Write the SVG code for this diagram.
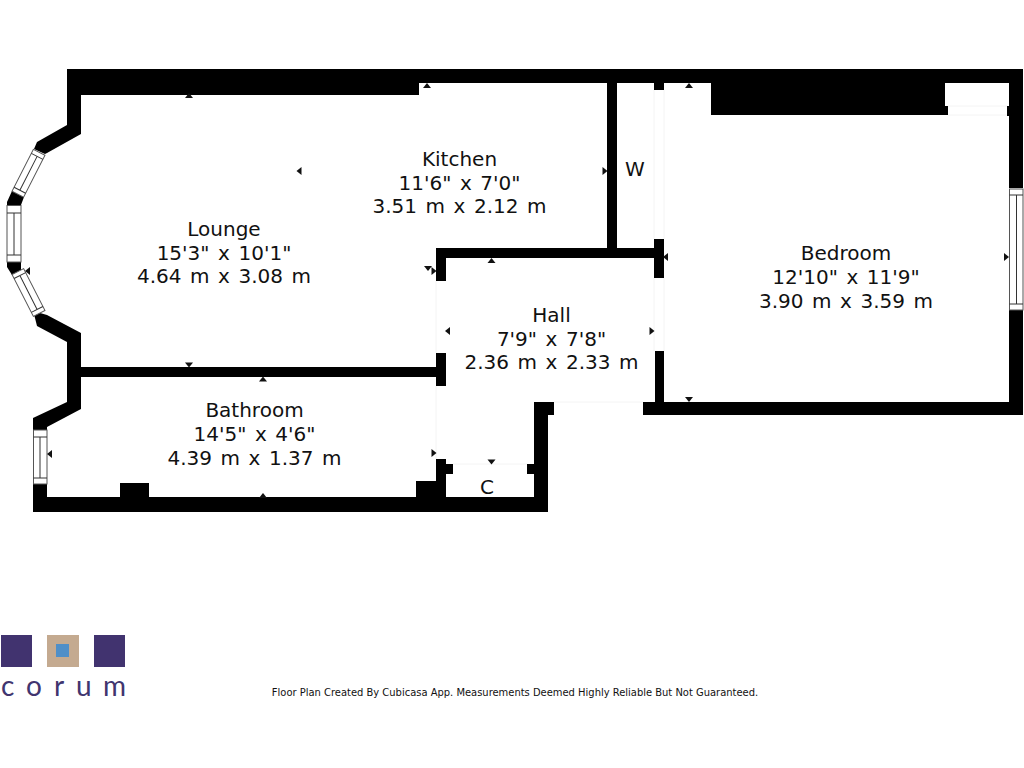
<svg xmlns="http://www.w3.org/2000/svg" width="1024" height="768" viewBox="0 0 1024 768">
<style>
.w{fill:#000}
.win{fill:#fff;stroke:#555;stroke-width:1}
.ln{fill:none;stroke:#333;stroke-width:1}
.door{fill:none;stroke:#f4f4f4;stroke-width:1}
.m{fill:#111}
text{font-family:"DejaVu Sans",Verdana,sans-serif;fill:#111;text-anchor:middle}
.r{font-size:20px;word-spacing:2.200px}
.foot{font-size:9.950px}
.logo{font-family:Lato,"Open Sans",sans-serif;font-size:28px;fill:#41356f;text-anchor:start;font-weight:400;word-spacing:0}
.sq{fill:#41336f}
</style>
<defs>
<path id="up" d="M-4 2.500L4 2.500L0 -2.500Z"/>
<path id="dn" d="M-4 -2.500L4 -2.500L0 2.500Z"/>
<path id="lf" d="M2.500 -4L2.500 4L-2.500 0Z"/>
<path id="rt" d="M-2.500 -4L-2.500 4L2.500 0Z"/>
<g id="dw"><rect class="win" x="-6.500" y="-23.500" width="13" height="47"/><path class="ln" d="M-6.500 -19H6.500M-6.500 19H6.500M0 -19V19"/></g>
</defs>
<rect width="1024" height="768" fill="#fff"/>
<g id="doors">
<path class="door" d="M436 281V353M436 386V459M654 90V239M664 90V239M654 278V351M664 278V351M554 402H643M453 464H527M948 115H1007M948 106H1007"/>
</g>
<g id="walls">
<polygon class="w" points="67,69 1023,69 1023,188 1009,188 1009,83 945,83 945,106 948,106 948,115 711,115 711,83 419,83 419,95 81,95 81,134 47,153 45,154 34,149 37,142 67,125"/>
<polygon class="w" points="12,191 24,197 21,205 7,205 7,202"/>
<polygon class="w" points="7,262 21,262 21,270 12,275 7,267"/>
<polygon class="w" points="35,318 33,311 47,315 81,333 81,409 47,427 47,430 33,430 33,418 67,402 67,342 37,326"/>
<rect class="w" x="81" y="367" width="356" height="10"/>
<polygon class="w" points="33,484 47,484 47,497 120,497 120,483 149,483 149,497 416,497 416,481 436,481 436,459 446,459 446,464 453,464 453,474 446,474 446,497 534,497 534,474 527,474 527,464 534,464 534,402 554,402 554,415 548,415 548,512 33,512"/>
<rect class="w" x="436" y="353" width="10" height="33"/>
<polygon class="w" points="436,248 664,248 664,278 654,278 654,258 446,258 446,281 436,281"/>
<rect class="w" x="654" y="239" width="10" height="10"/>
<rect class="w" x="607" y="83" width="10" height="165"/>
<rect class="w" x="654" y="83" width="10" height="7"/>
<polygon class="w" points="655,351 664,351 664,402 1009,402 1009,310 1023,310 1023,415 643,415 643,402 655,402"/>
<rect class="w" x="1007" y="106" width="2" height="10"/>
</g>
<g id="windows">
<use href="#dw" transform="translate(28.500 173.300) rotate(27)"/>
<use href="#dw" transform="translate(28.500 292.500) rotate(-27)"/>
<rect class="win" x="7" y="205.500" width="14" height="56.500"/>
<path class="ln" d="M7 213H21M7 255H21M14 213V255"/>
<rect class="win" x="33.500" y="430" width="13.500" height="54"/>
<path class="ln" d="M33.500 437H47M33.500 478H47M40 437V478"/>
<rect class="win" x="1009.500" y="189" width="13.500" height="121"/>
<path class="ln" d="M1009.500 195H1023M1009.500 304H1023M1016.500 195V304"/>
</g>
<g id="markers" class="m">
<use href="#up" x="189" y="95.500"/>
<use href="#up" x="427" y="85.500"/>
<use href="#lf" x="299" y="171"/>
<use href="#rt" x="605" y="171"/>
<use href="#dn" x="189" y="365"/>
<use href="#up" x="263" y="379"/>
<use href="#dn" x="428" y="268.500"/>
<use href="#rt" x="434" y="271"/>
<use href="#up" x="491.500" y="260.500"/>
<use href="#lf" x="447.500" y="331"/>
<use href="#rt" x="652" y="331"/>
<use href="#lf" x="665.500" y="257"/>
<use href="#rt" x="1006.500" y="257"/>
<use href="#up" x="689" y="85.500"/>
<use href="#dn" x="689" y="399.500"/>
<use href="#lf" x="49.500" y="454"/>
<use href="#rt" x="434" y="453"/>
<use href="#up" x="263" y="495.500"/>
<use href="#dn" x="491.500" y="462"/>
<use href="#lf" x="27.500" y="271"/>
</g>
<g id="lounge"><text class="r" x="224" y="236">Lounge</text><text class="r" x="224" y="259.500">15'3" x 10'1"</text><text class="r" x="224" y="283">4.64 m x 3.08 m</text></g>
<g id="kitchen"><text class="r" x="459.500" y="166">Kitchen</text><text class="r" x="459.500" y="189.500">11'6" x 7'0"</text><text class="r" x="459.500" y="213">3.51 m x 2.12 m</text></g>
<g id="wardrobe"><text class="r" x="635" y="176">W</text></g>
<g id="hall"><text class="r" x="551.500" y="322">Hall</text><text class="r" x="551.500" y="345.500">7'9" x 7'8"</text><text class="r" x="551.500" y="369">2.36 m x 2.33 m</text></g>
<g id="bedroom"><text class="r" x="846" y="260">Bedroom</text><text class="r" x="846" y="284">12'10" x 11'9"</text><text class="r" x="846" y="307.500">3.90 m x 3.59 m</text></g>
<g id="bathroom"><text class="r" x="254.500" y="417">Bathroom</text><text class="r" x="254.500" y="441">14'5" x 4'6"</text><text class="r" x="254.500" y="464.500">4.39 m x 1.37 m</text></g>
<g id="closet"><text class="r" x="487" y="494">C</text></g>
<g id="logo">
<rect class="sq" x="1" y="635" width="31" height="32"/>
<rect x="47" y="635" width="32" height="32" fill="#c4aa90"/>
<rect x="56" y="644" width="13" height="13" fill="#4f8fc8"/>
<rect class="sq" x="94" y="635" width="31" height="32"/>
<text class="logo" x="1 26 54 76 103" y="696">corum</text>
</g>
<text class="foot" x="515" y="696">Floor Plan Created By Cubicasa App. Measurements Deemed Highly Reliable But Not Guaranteed.</text>
</svg>
